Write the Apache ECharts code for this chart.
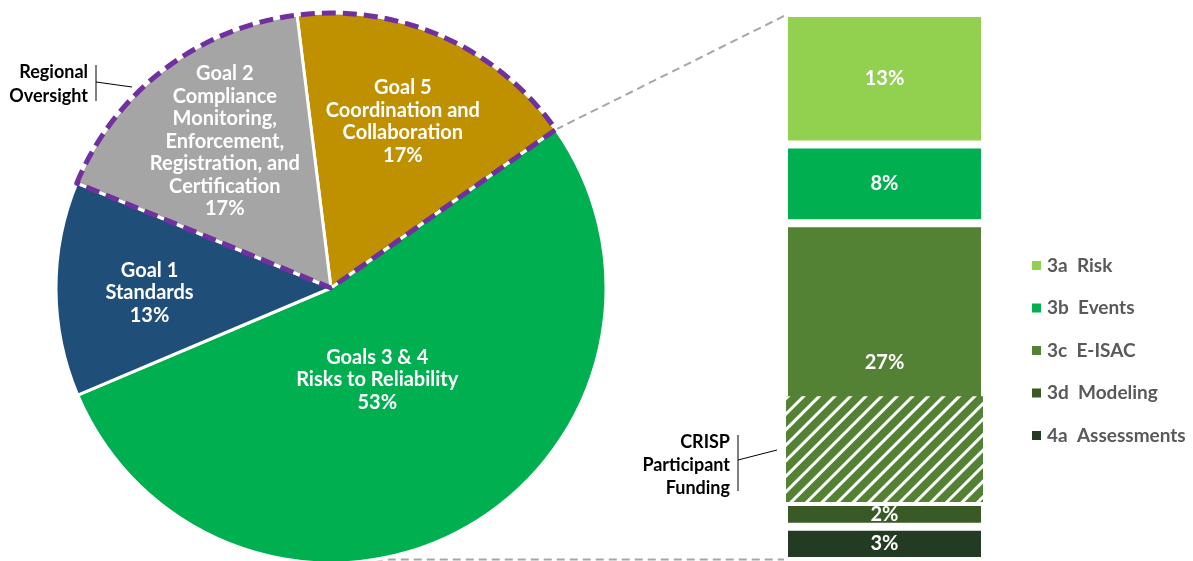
<!DOCTYPE html>
<html>
<head>
<meta charset="utf-8">
<title>Goals split</title>
<script src="https://cdn.jsdelivr.net/npm/echarts@6/dist/echarts.min.js"></script>
<style>
  html, body { margin: 0; padding: 0; background: #fff; }
  #chart { width: 1193px; height: 561px; }
</style>
</head>
<body>
<div id="chart"></div>
<script>
// pie: share per goal (percent)
var goalNames = [
  "Goal 5\nCoordination and\nCollaboration",
  "Goals 3 & 4\nRisks to Reliability",
  "Goal 1\nStandards",
  "Goal 2\nCompliance\nMonitoring,\nEnforcement,\nRegistration, and\nCertification"
];
var goalValues = [17.2, 53.4, 12.6, 16.8];
var goalColors = ["#BF9000", "#00B050", "#1F4E79", "#A5A5A5"];
// goals inside the purple "Regional Oversight" outline
var oversightGoals = [3, 0];

// bar: split of goals 3 & 4 (percent of total)
var riskNames = ["3a  Risk", "3b  Events", "3c  E-ISAC", "3d  Modeling", "4a  Assessments"];
var riskValues = [12.7, 7.6, 26.9, 2.4, 3.3];
var riskColors = ["#92D050", "#00B050", "#548235", "#3A5A25", "#233B23"];
var crispValue = 10.2; // hatched bottom part of 3c

// layout
var pieCenter = [331, 288];
var pieRadius = 275;
var pieStart = 97.1;
var labelNudge = [[15, -38], [-22, -31], [-41, 4], [-21, -35]];
var barLeft = 786, barWidth = 197, barTop = 15, barBottom = 561;
var gap = 4; // white border between bar blocks

var font = "Lato";
var myChart = echarts.init(document.getElementById("chart"));

var riskTotal = riskValues.reduce(function (a, b) { return a + b; }, 0);
var barSeries = [];
riskNames.forEach(function (name, i) {
  barSeries.push({
    name: name,
    type: "bar",
    stack: "main",
    barWidth: "100%",
    data: [riskValues[i]],
    itemStyle: { color: riskColors[i], borderColor: "#fff", borderWidth: gap },
    label: {
      show: true,
      position: "inside",
      formatter: function (p) { return Math.round(p.value) + "%"; },
      color: "#fff",
      fontFamily: font,
      fontWeight: "bold",
      fontSize: 20
    }
  });
  if (i === 2) {
    // CRISP hatch drawn over the bottom of 3c, on its own grid
    barSeries.push({
      name: "pad",
      type: "bar",
      stack: "crisp",
      xAxisIndex: 1,
      yAxisIndex: 1,
      barWidth: "100%",
      silent: true,
      data: [riskValues[0] + riskValues[1] + riskValues[2] - crispValue],
      itemStyle: { color: "transparent" }
    });
    barSeries.push({
      name: "CRISP",
      type: "bar",
      stack: "crisp",
      xAxisIndex: 1,
      yAxisIndex: 1,
      barWidth: "100%",
      silent: true,
      data: [crispValue],
      itemStyle: {
        color: riskColors[2],
        decal: {
          symbol: "rect",
          symbolSize: 1,
          color: "#fff",
          dashArrayX: [1, 0],
          dashArrayY: [3, 8],
          rotation: -Math.PI / 4
        }
      }
    });
  }
});

// overlay sector covering the oversight goals
var oversightSum = oversightGoals.reduce(function (a, i) { return a + goalValues[i]; }, 0);
var overlayStart = pieStart + goalValues[3] / 100 * 360;

// connector lines from pie to bar
var splitAngle = (pieStart - goalValues[0] / 100 * 360) * Math.PI / 180;
var topFrom = [pieCenter[0] + pieRadius * Math.cos(splitAngle), pieCenter[1] - pieRadius * Math.sin(splitAngle)];
var lowY = barBottom - 1.5;
var lowFrom = pieCenter[0] + Math.sqrt(pieRadius * pieRadius - Math.pow(lowY - pieCenter[1], 2));

var annText = { font: "bold 18px " + font, fill: "#000", align: "right", verticalAlign: "middle" };
var half = gap / 2;

myChart.setOption({
  animation: false,
  grid: [
    { left: barLeft - half, width: barWidth + gap, top: barTop - half, height: barBottom - barTop + gap },
    { left: barLeft, width: barWidth, top: barTop - half, height: barBottom - barTop + gap }
  ],
  xAxis: [
    { type: "category", data: ["Goals 3 & 4"], show: false },
    { type: "category", data: ["Goals 3 & 4"], show: false, gridIndex: 1 }
  ],
  yAxis: [
    { type: "value", inverse: true, min: 0, max: riskTotal, show: false },
    { type: "value", inverse: true, min: 0, max: riskTotal, show: false, gridIndex: 1 }
  ],
  legend: {
    data: riskNames,
    orient: "vertical",
    left: 1025,
    top: 250,
    icon: "rect",
    itemWidth: 11,
    itemHeight: 11,
    itemGap: 21.5,
    selectedMode: false,
    textStyle: { color: "#595959", fontFamily: font, fontWeight: "bold", fontSize: 19, lineHeight: 21 }
  },
  series: [
    {
      type: "pie",
      center: pieCenter,
      radius: pieRadius,
      startAngle: pieStart,
      clockwise: true,
      silent: true,
      data: goalNames.map(function (n, i) {
        return { name: n, value: goalValues[i], itemStyle: { color: goalColors[i] } };
      }),
      itemStyle: { borderColor: "#fff", borderWidth: 3 },
      label: {
        position: "inside",
        formatter: function (p) { return p.name + "\n" + Math.round(p.value) + "%"; },
        color: "#fff",
        fontFamily: font,
        fontWeight: "bold",
        fontSize: 20,
        lineHeight: 22.5
      },
      labelLine: { show: false },
      labelLayout: function (p) {
        return { dx: labelNudge[p.dataIndex][0], dy: labelNudge[p.dataIndex][1] };
      }
    },
    {
      type: "pie",
      center: pieCenter,
      radius: pieRadius,
      startAngle: overlayStart,
      clockwise: true,
      silent: true,
      z: 3,
      label: { show: false },
      labelLine: { show: false },
      data: [
        { name: "Regional Oversight", value: oversightSum,
          itemStyle: { color: "transparent", borderColor: "#7030A0", borderWidth: 5, borderType: [14, 7] } },
        { name: "rest1", value: goalValues[1], itemStyle: { color: "transparent", borderWidth: 0 } },
        { name: "rest2", value: goalValues[2], itemStyle: { color: "transparent", borderWidth: 0 } }
      ]
    }
  ].concat(barSeries),
  graphic: [
    { type: "line", z: 1, shape: { x1: topFrom[0], y1: topFrom[1], x2: barLeft, y2: barTop },
      style: { stroke: "#A6A6A6", lineWidth: 2, lineDash: [8, 5] } },
    { type: "line", z: 1, shape: { x1: lowFrom, y1: lowY, x2: barLeft, y2: lowY },
      style: { stroke: "#A6A6A6", lineWidth: 2, lineDash: [8, 5] } },
    { type: "text", style: Object.assign({ text: "Regional\nOversight", x: 88, y: 84, lineHeight: 24 }, annText) },
    { type: "line", shape: { x1: 96, y1: 65, x2: 96, y2: 101 }, style: { stroke: "#000", lineWidth: 1 } },
    { type: "line", shape: { x1: 96, y1: 82, x2: 132, y2: 87 }, style: { stroke: "#000", lineWidth: 1 } },
    { type: "text", style: Object.assign({ text: "CRISP\nParticipant\nFunding", x: 730, y: 465, lineHeight: 23 }, annText) },
    { type: "line", shape: { x1: 738, y1: 435, x2: 738, y2: 491 }, style: { stroke: "#000", lineWidth: 1 } },
    { type: "line", shape: { x1: 738, y1: 460, x2: 777, y2: 450 }, style: { stroke: "#000", lineWidth: 1 } }
  ]
});
</script>
</body>
</html>
